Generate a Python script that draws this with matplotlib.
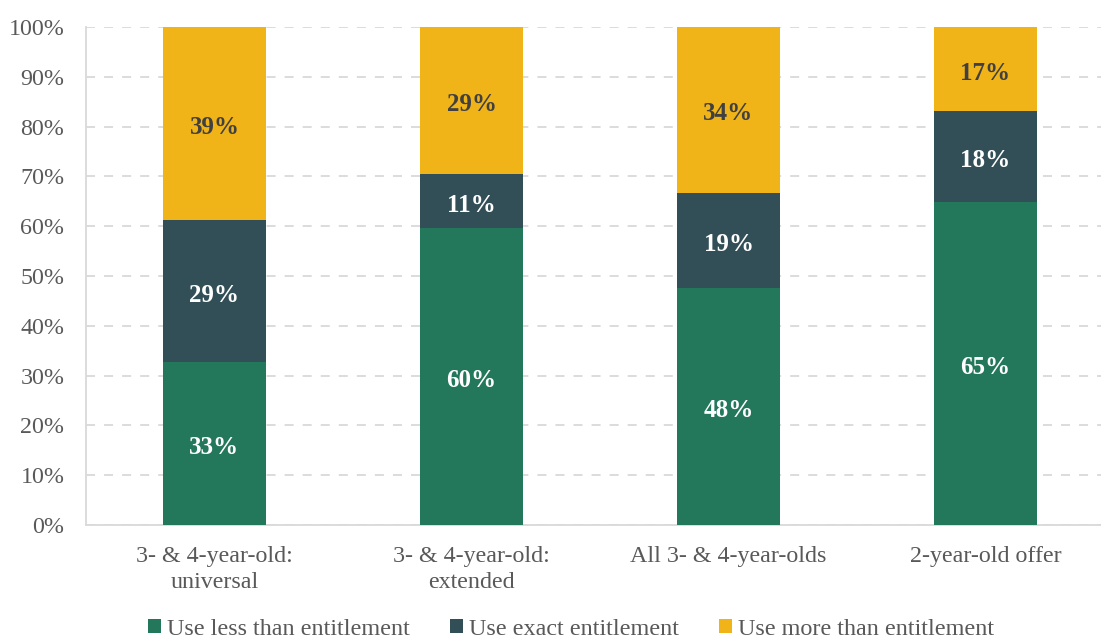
import matplotlib
matplotlib.use("Agg")
import matplotlib.pyplot as plt
import numpy as np

categories = ["3- & 4-year-old:\nuniversal", "3- & 4-year-old:\nextended",
              "All 3- & 4-year-olds", "2-year-old offer"]
less = [32.7, 59.6, 47.6, 64.9]
exact = [28.5, 10.9, 19.1, 18.2]
more = [38.8, 29.5, 33.3, 16.9]
less_lbl = ["33%", "60%", "48%", "65%"]
exact_lbl = ["29%", "11%", "19%", "18%"]
more_lbl = ["39%", "29%", "34%", "17%"]
series_names = ["Use less than entitlement", "Use exact entitlement", "Use more than entitlement"]
colors = ["#23775A", "#324F57", "#F0B419"]

plt.rcParams['font.family'] = ['Liberation Serif', 'DejaVu Serif']

fig = plt.figure(figsize=(11.01, 6.41), dpi=100)
ax = fig.add_axes([86/1101, 1-525/641, 1028/1101, 498/641])

x = np.arange(len(categories))
w = 0.4
bottom = np.zeros(len(categories))
for vals, lbls, col, name, tcol in [(less, less_lbl, colors[0], series_names[0], "white"),
                                    (exact, exact_lbl, colors[1], series_names[1], "white"),
                                    (more, more_lbl, colors[2], series_names[2], "#404040")]:
    vals = np.array(vals)
    ax.bar(x, vals, w, bottom=bottom, color=col, label=name, zorder=3)
    for xi, b, v, l in zip(x, bottom, vals, lbls):
        ax.text(xi, b + v/2 - 0.8, l, ha="center", va="center", color=tcol,
                fontsize=18, fontweight="bold", zorder=4)
    bottom += vals

ax.set_xlim(-0.5, 3.5)
ax.set_ylim(0, 100)
ax.set_yticks(np.arange(0, 101, 10))
ax.set_yticklabels([f"{v}%" for v in range(0, 101, 10)])
ax.set_xticks(x)
ax.set_xticklabels(categories, linespacing=1.3)
ax.tick_params(axis="both", length=0, labelsize=17.3, colors="#595959")
ax.tick_params(axis="x", pad=15)
ax.tick_params(axis="y", pad=15.5)
ax.yaxis.grid(True, linestyle=(0, (5, 5)), color="#D9D9D9", linewidth=1.3, zorder=0)
for s in ["top", "right"]:
    ax.spines[s].set_visible(False)
for s in ["left", "bottom"]:
    ax.spines[s].set_color("#D9D9D9")
    ax.spines[s].set_linewidth(1.3)

leg = fig.legend(loc="lower center", bbox_to_anchor=(0.5 + 20.5/1101, -0.032), ncol=3, frameon=False,
                 fontsize=17.4, handlelength=0.55, handleheight=0.55, handletextpad=0.25,
                 columnspacing=1.65)
for t in leg.get_texts():
    t.set_color("#595959")

fig.savefig("out.png", dpi=100)
